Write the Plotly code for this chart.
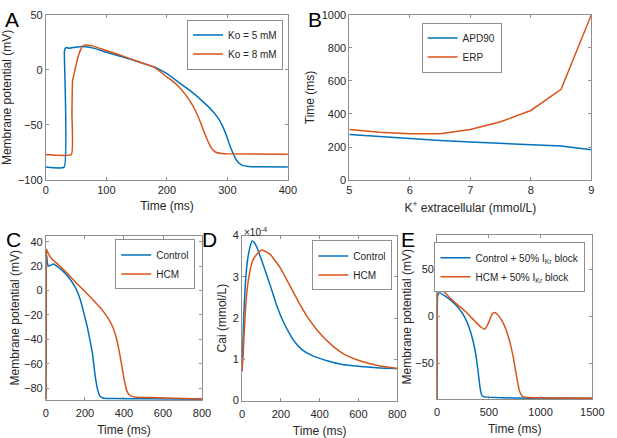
import plotly.graph_objects as go

blue = "#0072BD"
orange = "#D95319"

# panel A: action potentials for two extracellular K+ levels
a_t_ko5 = [0, 30, 30.6, 32, 35, 38, 45, 55, 65, 80, 100, 120, 140, 160, 180, 200, 220, 240, 260,
           275, 285, 292, 298, 303, 308, 313, 318, 325, 335, 350, 400]
a_v_ko5 = [-88.2, -88.2, 17, 19.5, 20.2, 19.6, 20.2, 21, 21, 19.5, 16, 12.8, 9.5, 6, 2.5, -3.5, -11.5,
           -19.5, -29, -37, -44, -51, -59, -67, -74, -80, -84, -86.6, -87.6, -88, -88.2]
a_t_ko8 = [0, 42, 43, 44, 46, 50, 55, 60, 65, 75, 100, 120, 140, 160, 180, 200, 210, 220, 230, 240,
           248, 255, 262, 268, 273, 280, 290, 300, 400]
a_v_ko8 = [-76.8, -76.8, -40, -10, -5, 5, 15, 21, 22.5, 22, 17.5, 14, 10, 6, 2, -6.5, -10.5, -15.5,
           -22, -30, -38, -47, -57, -65, -70.5, -74.5, -75.8, -76.2, -76.5]

# panel B: APD90 and ERP vs K+
b_ko = [5, 5.5, 6, 6.5, 7, 7.5, 8, 8.5, 9]
b_apd90 = [275, 262, 250, 240, 230, 223, 215, 206, 183]
b_erp = [306, 290, 280, 280, 306, 353, 421, 549, 1000]

# panel C: control vs HCM action potential
c_t_ctrl = [0, 1, 3, 8, 14, 25, 38, 55, 80, 113, 147, 163, 180, 197, 210, 222, 238, 250, 263, 272,
            280, 297, 350, 530, 800]
c_v_ctrl = [-89, 20, 30, 22, 19.8, 20.8, 21.6, 20, 16.9, 11.5, 3.6, -1.7, -9.7, -20.4, -28.5, -37.7,
            -51, -67, -80, -85, -87, -88.2, -88.5, -88.7, -89]
c_t_hcm = [0, 1, 3, 10, 30, 80, 147, 230, 297, 338, 363, 380, 397, 413, 430, 463, 530, 800]
c_v_hcm = [-89, 25, 33.6, 31, 26, 18.7, 7.6, -5.7, -17.7, -28.3, -40.3, -53.6, -69.6, -81.6, -86,
           -87.4, -87.7, -88.8]

# panel D: calcium transients (x1e-4 mmol/L)
d_t_ctrl = [0, 5, 10, 18, 27, 40, 52, 65, 77, 110, 144, 177, 210, 244, 277, 311, 344, 377, 444, 511,
            611, 711, 800]
d_ca_ctrl = [0.71, 1.5, 2.18, 2.9, 3.36, 3.7, 3.87, 3.82, 3.71, 3.28, 2.81, 2.33, 1.94, 1.63, 1.39,
             1.23, 1.13, 1.06, 0.96, 0.88, 0.825, 0.79, 0.78]
d_t_hcm = [0, 5, 10, 18, 27, 40, 52, 77, 102, 144, 194, 244, 294, 344, 394, 461, 528, 611, 711, 800]
d_ca_hcm = [0.71, 1.05, 1.55, 2.2, 2.73, 3.12, 3.36, 3.55, 3.65, 3.55, 3.24, 2.81, 2.37, 1.98, 1.67,
            1.35, 1.12, 0.96, 0.84, 0.78]

# panel E: 50% IKr block
e_t_ctrl = [0, 1, 5, 22, 78, 141, 203, 266, 312, 344, 375, 397, 416, 428, 447, 578, 890, 1500]
e_v_ctrl = [-88, 5, 21.4, 25.2, 21.4, 16.2, 9.3, -1, -13, -25, -42, -60, -77, -83, -85.5, -86.6,
            -87.2, -87.2]
e_t_hcm = [0, 1, 4, 22, 78, 172, 266, 359, 422, 459, 500, 531, 556, 594, 641, 688, 734, 766, 797,
           828, 891, 1500]
e_v_hcm = [-88, 20, 36.2, 31.7, 24.8, 14.5, 5.9, -4.5, -11.4, -13.8, -6.2, 2.4, 4.1, 0.7, -7.9,
           -21.7, -42.4, -63, -80, -85.5, -86.6, -87.2]

W, H = 617, 438


def px_x(a, b):
    return [a / W, b / W]


def px_y(top, bottom):
    return [1 - bottom / H, 1 - top / H]


fig = go.Figure()


def line(x, y, color, name, n, legend):
    fig.add_trace(go.Scatter(x=x, y=y, mode="lines", name=name, line=dict(color=color, width=1.5),
                             xaxis="x" + n, yaxis="y" + n, legend=legend, line_shape="spline",
                             line_smoothing=0.4))


line(a_t_ko5, a_v_ko5, blue, "Ko = 5 mM", "", "legend")
line(a_t_ko8, a_v_ko8, orange, "Ko = 8 mM", "", "legend")
fig.add_trace(go.Scatter(x=b_ko, y=b_apd90, mode="lines", name="APD90", line=dict(color=blue, width=1.5),
                         xaxis="x2", yaxis="y2", legend="legend2"))
fig.add_trace(go.Scatter(x=b_ko, y=b_erp, mode="lines", name="ERP", line=dict(color=orange, width=1.5),
                         xaxis="x2", yaxis="y2", legend="legend2"))
line(c_t_ctrl, c_v_ctrl, blue, "Control", "3", "legend3")
line(c_t_hcm, c_v_hcm, orange, "HCM", "3", "legend3")
line(d_t_ctrl, [c * 1e-4 for c in d_ca_ctrl], blue, "Control", "4", "legend4")
line(d_t_hcm, [c * 1e-4 for c in d_ca_hcm], orange, "HCM", "4", "legend4")
line(e_t_ctrl, e_v_ctrl, blue, "Control + 50% I<sub>Kr</sub> block", "5", "legend5")
line(e_t_hcm, e_v_hcm, orange, "HCM + 50% I<sub>Kr</sub> block", "5", "legend5")

font = "Liberation Sans, Arial, sans-serif"
ax = dict(showline=True, linecolor="#8f8f8f", linewidth=1, mirror="ticks", ticks="inside", ticklen=3,
          tickcolor="#8f8f8f", showgrid=False, zeroline=False,
          tickfont=dict(size=11, color="#262626"), title_font=dict(size=12, color="#262626"))

leg = dict(bgcolor="white", bordercolor="#8f8f8f", borderwidth=1, font=dict(size=10, color="#262626"),
           itemwidth=30, tracegroupgap=0, xanchor="right", yanchor="top")

fig.update_layout(
    width=W, height=H, margin=dict(l=0, r=0, t=0, b=0), plot_bgcolor="white", paper_bgcolor="white",
    font=dict(family=font, color="#262626"),
    xaxis=dict(ax, domain=px_x(44, 292), range=[0, 400], dtick=100, anchor="y",
               title=dict(text="Time (ms)", standoff=6)),
    yaxis=dict(ax, domain=px_y(9, 179), range=[-100, 50], dtick=50, anchor="x",
               title=dict(text="Membrane potential (mV)", standoff=4)),
    xaxis2=dict(ax, domain=px_x(355, 603), range=[5, 9], dtick=1, anchor="y2",
                title=dict(text="K<sup>+</sup> extracellular (mmol/L)", standoff=8)),
    yaxis2=dict(ax, domain=px_y(9, 179), range=[0, 1000], dtick=200, anchor="x2",
                title=dict(text="Time (ms)", standoff=4)),
    xaxis3=dict(ax, domain=px_x(44, 204), range=[0, 800], dtick=200, anchor="y3", ticklabelstandoff=3,
                title=dict(text="Time (ms)", standoff=7)),
    yaxis3=dict(ax, domain=px_y(236, 405), range=[-89.6, 45], tickvals=[-80, -60, -40, -20, 0, 20, 40],
                anchor="x3", title=dict(text="Membrane potential (mV)", standoff=1)),
    xaxis4=dict(ax, domain=px_x(245, 404), range=[0, 800], dtick=200, anchor="y4", ticklabelstandoff=3,
                title=dict(text="Time (ms)", standoff=7)),
    yaxis4=dict(ax, domain=px_y(236, 405.7), range=[0, 4e-4], tickvals=[0, 1e-4, 2e-4, 3e-4, 4e-4],
                ticktext=["0", "1", "2", "3", "4"], anchor="x4",
                title=dict(text="Cai (mmol/L)", standoff=3)),
    xaxis5=dict(ax, domain=px_x(445, 604), range=[0, 1500], dtick=500, anchor="y5", ticklabelstandoff=3,
                title=dict(text="Time (ms)", standoff=7)),
    yaxis5=dict(ax, domain=px_y(235, 404), range=[-88, 87], tickvals=[-50, 0, 50], anchor="x5",
                title=dict(text="Membrane potential (mV)", standoff=1)),
    legend=dict(leg, x=287 / W, y=1 - 14 / H),
    legend2=dict(leg, x=511 / W, y=1 - 17 / H),
    legend3=dict(leg, x=197 / W, y=1 - 240 / H),
    legend4=dict(leg, x=399 / W, y=1 - 241 / H),
    legend5=dict(leg, x=597 / W, y=1 - 243 / H),
)

letters = [("A", 0, 0), ("B", 311, 0), ("C", 1, 226), ("D", 202, 226), ("E", 406, 226)]
for txt, lx, ly in letters:
    fig.add_annotation(text=txt, x=lx / W, y=1 - ly / H, xref="paper", yref="paper", xanchor="left",
                       yanchor="top", showarrow=False, font=dict(size=21, color="black"))

fig.add_annotation(text="\u00d710<sup>-4</sup>", x=245 / W, y=1 - 224 / H, xref="paper", yref="paper",
                   xanchor="left", yanchor="top", showarrow=False, font=dict(size=10, color="#262626"))

# drop the default page margin so the figure sits at the window's top-left corner
fig.write_html("out.html", config={"displayModeBar": False},
               post_script="document.body.style.margin='0';")
